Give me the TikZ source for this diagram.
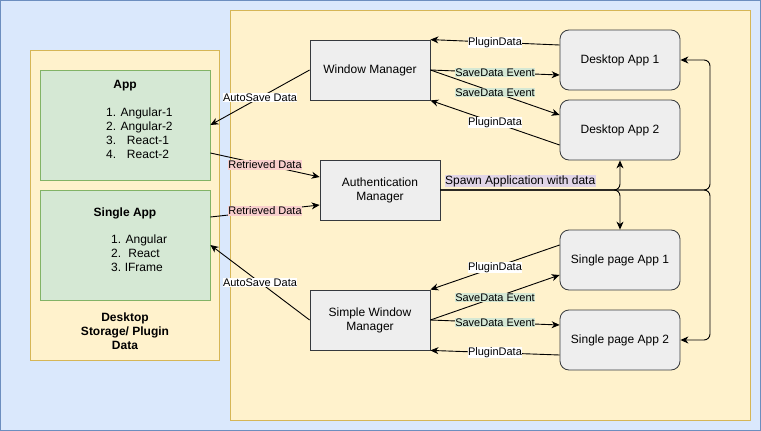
\documentclass[tikz,border=0pt]{standalone}
\usepackage{fontspec}
\setmainfont{Liberation Sans}
\usetikzlibrary{arrows.meta,calc}
\definecolor{bgblue}{HTML}{DAE8FC}
\definecolor{bgbluestroke}{HTML}{6C8EBF}
\definecolor{ylw}{HTML}{FFF2CC}
\definecolor{ylwstroke}{HTML}{D6B656}
\definecolor{grn}{HTML}{D5E8D4}
\definecolor{grnstroke}{HTML}{82B366}
\definecolor{gry}{HTML}{EEEEEE}
\definecolor{grystroke}{HTML}{36393D}
\definecolor{pink}{HTML}{F8CECC}
\definecolor{purp}{HTML}{E1D5E7}
\tikzset{
  mgr/.style={draw=grystroke, fill=gry, line width=0.8pt, minimum width=120pt, minimum height=60pt, inner sep=0pt, align=center, font=\fontsize{12}{14}\selectfont},
  appbox/.style={mgr, rounded corners=9pt},
  grnbox/.style={draw=grnstroke, fill=grn, line width=0.8pt, minimum width=170pt, minimum height=110pt, inner sep=0pt},
  conn/.style={draw=black, line width=0.9pt, -{Stealth[length=8pt,width=7pt,inset=2.5pt]}},
  lbl/.style={font=\fontsize{11}{13}\selectfont, inner sep=0.5pt, fill=white, text=black},
  savelbl/.style={lbl, fill=grn},
  retlbl/.style={lbl, fill=pink},
  spawnlbl/.style={lbl, fill=purp, font=\fontsize{12}{14}\selectfont},
  listtxt/.style={font=\fontsize{12}{14}\selectfont, align=left, anchor=north west, inner sep=0pt},
}
\begin{document}
\begin{tikzpicture}[x=1pt,y=-1pt]
\useasboundingbox (0,0) rectangle (761,431);
% backgrounds
\draw[draw=bgbluestroke, fill=bgblue, line width=0.8pt] (0.5,0.5) rectangle (760.5,430.5);
\draw[draw=ylwstroke, fill=ylw, line width=0.8pt] (230,10) rectangle (750,420);
\draw[draw=ylwstroke, fill=ylw, line width=0.8pt] (30,50) rectangle (219,360);
% storage
\node[grnbox] (app) at (125,125) {};
\node[grnbox] (sapp) at (125,245) {};
\node[font=\bfseries\fontsize{12}{14}\selectfont] (apptitle) at (125,86) {App};
\node[listtxt] (applist) at (106,107.5) {1. Angular-1\\2. Angular-2\\3.\hspace{0.9em}React-1\\4.\hspace{0.9em}React-2};
\node[font=\bfseries\fontsize{12}{14}\selectfont] (sapptitle) at (125,213) {Single App};
\node[listtxt] (sapplist) at (111,234.5) {1. Angular\\2.\hspace{0.6em}React\\3.\hspace{0.3em}IFrame};
\node[font=\bfseries\fontsize{12}{14}\selectfont, align=center] (storage) at (125,331.5) {Desktop\\Storage/ Plugin\\Data};
% managers
\node[mgr] (wm) at (370,70) {Window Manager};
\node[mgr] (auth) at (380,190) {Authentication\\Manager};
\node[mgr] (swm) at (370,320) {Simple Window\\Manager};
% apps
\node[appbox] (da1) at (620,60) {Desktop App 1};
\node[appbox] (da2) at (620,130) {Desktop App 2};
\node[appbox] (spa1) at (620,260) {Single page App 1};
\node[appbox] (spa2) at (620,340) {Single page App 2};
\coordinate (rj) at (710,190);
% window manager edges
\draw[conn] ([yshift=15pt]da1.west) -- node[lbl] {PluginData} (wm.north east);
\draw[conn] (wm.east) -- node[savelbl] {SaveData Event} ([yshift=-15pt]da1.west);
\draw[conn] (wm.east) -- node[savelbl] {SaveData Event} ([yshift=15pt]da2.west);
\draw[conn] ([yshift=-15pt]da2.west) -- node[lbl] {PluginData} (wm.south east);
\draw[conn] (wm.west) -- node[lbl] {AutoSave Data} (app.east);
% retrieved
\draw[conn] ([yshift=-28pt]app.east) -- node[retlbl] {Retrieved Data} ([yshift=13pt]auth.west);
\draw[conn] ([yshift=28pt]sapp.east) -- node[retlbl] {Retrieved Data} ([yshift=-15pt]auth.west);
% simple window manager edges
\draw[conn] (swm.west) -- node[lbl] {AutoSave Data} (sapp.east);
\draw[conn] ([yshift=15pt]spa1.west) -- node[lbl] {PluginData} (swm.north east);
\draw[conn] (swm.east) -- node[savelbl] {SaveData Event} ([yshift=-15pt]spa1.west);
\draw[conn] (swm.east) -- node[savelbl] {SaveData Event} ([yshift=15pt]spa2.west);
\draw[conn] ([yshift=-15pt]spa2.west) -- node[lbl] {PluginData} (swm.south east);
% spawn edges
\draw[conn, rounded corners=6pt] (auth.east) -| (da2.south);
\draw[conn, rounded corners=6pt] (auth.east) -| (spa1.north);
\draw[conn, rounded corners=6pt] (auth.east) -- (rj) |- (da1.east);
\draw[conn, rounded corners=6pt] (auth.east) -- (rj) |- (spa2.east);
\path (auth.east) -- node[spawnlbl, pos=0.296, yshift=9pt] (spawn) {Spawn Application with data} (rj);
\end{tikzpicture}
\end{document}
